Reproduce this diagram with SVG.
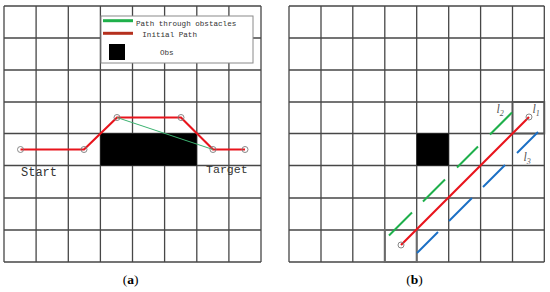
<svg xmlns="http://www.w3.org/2000/svg" width="550" height="292" viewBox="0 0 550 292">
<style>
.grid{stroke:#474747;stroke-width:1.3;fill:none}
.red{stroke:#e8141c;stroke-width:2.2;fill:none}
.grn{stroke:#1faf4b;stroke-width:2}
.blu{stroke:#1a6fc4;stroke-width:2}
.pt{fill:none;stroke:#7a7a7a;stroke-width:0.9}
.mono{font-family:"Liberation Mono","DejaVu Sans Mono",monospace;fill:#333}
.lab{font-family:"Liberation Serif",serif;font-style:italic;fill:#555;font-size:12px}
.cap{font-family:"Liberation Serif",serif;font-size:13.5px;fill:#000;text-anchor:middle}
</style>
<rect width="550" height="292" fill="#fff"/>
<g id="panel-a">
<g id="grid-a" class="grid">
<path d="M4,6V262M36.1,6V262M68.3,6V262M100.4,6V262M132.5,6V262M164.6,6V262M196.8,6V262M228.9,6V262M261,6V262"/>
<path d="M4,6H261M4,38H261M4,70H261M4,102H261M4,133.5H261M4,165.5H261M4,198H261M4,230H261M4,262H261"/>
</g>
<rect id="obs-a" x="100.4" y="133.5" width="96.4" height="32" fill="#000"/>
<g id="connectors-a">
<polyline class="red" points="20.5,149.5 84,149.5 117,117.5 181,117.5 213,149.5 245,149.5"/>
<line x1="117" y1="117.5" x2="213" y2="149.5" stroke="#3cb371" stroke-width="1"/>
</g>
<g id="points-a">
<circle class="pt" cx="20.5" cy="149.5" r="3"/>
<circle class="pt" cx="84" cy="149.5" r="3"/>
<circle class="pt" cx="117" cy="117.5" r="3"/>
<circle class="pt" cx="181" cy="117.5" r="3"/>
<circle class="pt" cx="213" cy="149.5" r="3"/>
<circle class="pt" cx="245" cy="149.5" r="3"/>
</g>
<text class="mono" x="21" y="176" font-size="12">Start</text>
<text class="mono" x="206" y="173" font-size="11.6">Target</text>
<g id="legend">
<rect x="101" y="16" width="152" height="47" fill="#fff" stroke="#8a8a8a" stroke-width="1"/>
<line x1="103" y1="20.7" x2="133" y2="20.7" stroke="#1fb04a" stroke-width="3"/>
<line x1="103" y1="33.3" x2="133" y2="33.3" stroke="#b5301e" stroke-width="3"/>
<rect x="109" y="44" width="16" height="16" fill="#000"/>
<text class="mono" x="136" y="26" font-size="7.6">Path through obstacles</text>
<text class="mono" x="142.3" y="37" font-size="7.6">Initial Path</text>
<text class="mono" x="160" y="55" font-size="7.6">Obs</text>
</g>
<text class="cap" x="130.5" y="283.5">(<tspan font-weight="bold">a</tspan>)</text>
</g>
<g id="panel-b">
<g id="grid-b" class="grid">
<path d="M289,6V262M321,6V262M352.8,6V262M384.8,6V262M416.7,6V262M448.7,6V262M480.6,6V262M512.5,6V262M544.3,6V262"/>
<path d="M289,6H544.3M289,38H544.3M289,70H544.3M289,102H544.3M289,133.5H544.3M289,165.5H544.3M289,198H544.3M289,230H544.3M289,262H544.3"/>
</g>
<rect x="384.8" y="230" width="31.9" height="32" fill="none" stroke="#6a6a6a" stroke-width="2"/>
<rect x="512.5" y="102" width="31.8" height="31.5" fill="none" stroke="#555" stroke-width="1.8"/>
<rect id="obs-b" x="416.7" y="133.5" width="32" height="32" fill="#000"/>
<g id="connectors-b">
<line class="red" x1="401" y1="245" x2="529" y2="117"/>
<g class="grn">
<line x1="389" y1="235.5" x2="412" y2="212.5"/>
<line x1="423" y1="201.5" x2="445" y2="179.5"/>
<line x1="457" y1="167.5" x2="478" y2="146.5"/>
<line x1="490" y1="134.5" x2="512" y2="112.5"/>
</g>
<g class="blu">
<line x1="417" y1="253" x2="438" y2="232"/>
<line x1="449" y1="221" x2="472" y2="198"/>
<line x1="483" y1="187" x2="505" y2="165"/>
<line x1="517" y1="153" x2="538" y2="132"/>
</g>
</g>
<circle class="pt" cx="401" cy="245" r="3"/>
<circle class="pt" cx="529" cy="117" r="3"/>
<text class="lab" x="496.5" y="113">l<tspan font-size="8" dy="3">2</tspan></text>
<text class="lab" x="532.5" y="113">l<tspan font-size="8" dy="3">1</tspan></text>
<text class="lab" x="523.5" y="161">l<tspan font-size="8" dy="3">3</tspan></text>
<text class="cap" x="414.5" y="283.5">(<tspan font-weight="bold">b</tspan>)</text>
</g>
</svg>
